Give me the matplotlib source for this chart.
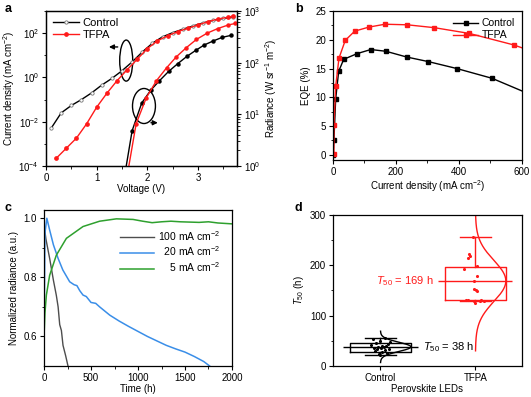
import numpy as np
import matplotlib
matplotlib.use('Agg')
import matplotlib.pyplot as plt
from matplotlib.patches import Ellipse
from matplotlib.ticker import MultipleLocator, FixedLocator, LogFormatterMathtext, NullFormatter

plt.rcParams['font.family'] = ['Liberation Sans', 'DejaVu Sans']
plt.rcParams['mathtext.fontset'] = 'custom'
plt.rcParams['mathtext.rm'] = 'Liberation Sans'
plt.rcParams['mathtext.it'] = 'Liberation Sans:italic'
plt.rcParams['mathtext.default'] = 'regular'
plt.rcParams['font.size'] = 7
plt.rcParams['axes.linewidth'] = 0.9
plt.rcParams['xtick.major.size'] = 3
plt.rcParams['ytick.major.size'] = 3
plt.rcParams['xtick.minor.size'] = 1.8
plt.rcParams['ytick.minor.size'] = 1.8
plt.rcParams['xtick.major.pad'] = 2
plt.rcParams['ytick.major.pad'] = 2

RED = '#ff1a1a'

# ---- panel a: J-V and L-V
v_ctrl_j = [0.1, 0.3, 0.5, 0.7, 0.9, 1.1, 1.3, 1.5, 1.7, 1.9, 2.1, 2.3, 2.5, 2.7, 2.9, 3.1, 3.3, 3.5, 3.7]
j_ctrl = [5.0e-3, 2.5e-2, 5.4e-2, 0.1, 0.2, 0.45, 0.9, 2.0, 5.0, 14, 35, 68, 105, 150, 210, 290, 380, 460, 525]
v_tfpa_j = [0.2, 0.4, 0.6, 0.8, 1.0, 1.2, 1.4, 1.6, 1.8, 2.0, 2.2, 2.4, 2.6, 2.8, 3.0, 3.2, 3.4, 3.6, 3.7]
j_tfpa = [2.2e-4, 6.3e-4, 1.8e-3, 7.9e-3, 4.5e-2, 0.19, 0.7, 2.2, 6.6, 20, 45, 76, 117, 166, 234, 331, 437, 525, 600]

v_ctrl_l = [1.55, 1.7, 1.89, 2.07, 2.24, 2.42, 2.6, 2.78, 2.96, 3.12, 3.3, 3.48, 3.66]
l_ctrl = [0.63, 4.8, 16.6, 29.5, 44.7, 67.6, 95.5, 132, 174, 219, 263, 309, 339]
v_tfpa_l = [1.6, 1.78, 1.98, 2.18, 2.38, 2.57, 2.77, 2.97, 3.18, 3.39, 3.6, 3.74]
l_tfpa = [0.63, 6.6, 20.9, 44.7, 79.4, 129, 195, 282, 372, 457, 537, 575]

# ---- panel b: EQE
jb_ctrl = [0, 3, 8.5, 18, 34, 77, 120, 168, 234, 303, 393, 505, 600]
eqe_ctrl = [0, 2.6, 9.7, 14.5, 16.6, 17.6, 18.3, 18.0, 17.0, 16.2, 15.0, 13.3, 11.1]
jb_tfpa = [3, 3, 8.5, 19, 39, 69, 114, 165, 236, 322, 433, 574, 600]
eqe_tfpa = [0.2, 5.2, 11.9, 16.8, 19.9, 21.5, 22.2, 22.7, 22.6, 22.1, 21.1, 19.1, 18.6]

# ---- panel c: stability
t_100 = [0, 20, 60, 100, 131, 150, 167, 185, 202, 230, 255]
r_100 = [0.98, 0.93, 0.864, 0.79, 0.739, 0.70, 0.64, 0.62, 0.57, 0.535, 0.5]
t_20 = [0, 10, 30, 60, 100, 150, 200, 273, 320, 350, 380, 415, 450, 500, 550, 592, 700, 800, 900,
        1000, 1100, 1200, 1300, 1400, 1500, 1600, 1700, 1762]
r_20 = [0.59, 0.95, 1.0, 0.96, 0.91, 0.864, 0.825, 0.785, 0.775, 0.772, 0.755, 0.74, 0.735, 0.715,
        0.712, 0.70, 0.672, 0.652, 0.634, 0.617, 0.60, 0.585, 0.57, 0.558, 0.547, 0.532, 0.515, 0.5]
t_5 = [0, 10, 25, 60, 131, 238, 415, 592, 770, 947, 1050, 1150, 1250, 1350, 1450, 1550, 1650, 1750, 1850, 2000]
r_5 = [0.6, 0.68, 0.74, 0.807, 0.875, 0.932, 0.972, 0.99, 0.998, 0.996, 0.99, 0.985, 0.988, 0.99,
       0.988, 0.987, 0.986, 0.988, 0.984, 0.981]

# ---- panel d: T50 statistics
groups = ['Control', 'TFPA']
t50_ctrl = [55, 53, 50, 47, 45, 43, 41, 40, 39, 38, 37, 36, 35, 34, 33, 32, 30, 28, 26, 24, 22]
dx_ctrl = [0.05, -0.08, 0.0, 0.1, -0.05, 0.08, -0.1, 0.02, 0.06, -0.03, 0.04, -0.07, 0.01, 0.09, -0.04,
           0.05, -0.06, 0.02, 0.07, -0.02, 0.0]
t50_tfpa = [257, 222, 218, 215, 193, 198, 179, 169, 152, 150, 148, 131, 132, 130, 129, 126, 131, 130]
dx_tfpa = [-0.03, -0.07, -0.06, -0.08, -0.12, 0.02, 0.02, -0.02, -0.01, 0.01, 0.02, -0.1, -0.08,
           -0.01, 0.05, 0.0, 0.06, 0.09]
box_ctrl = dict(med=38, q1=28.4, q3=46, whislo=22, whishi=55)
box_tfpa = dict(med=169, q1=131, q3=197.5, whislo=129.5, whishi=257)

fig = plt.figure(figsize=(5.31, 3.97), dpi=100)
axa = fig.add_axes([0.0866, 0.5819, 0.3597, 0.3904])
axb = fig.add_axes([0.6271, 0.597, 0.3559, 0.3753])
axc = fig.add_axes([0.0829, 0.0781, 0.354, 0.393])
axd = fig.add_axes([0.6271, 0.0781, 0.3559, 0.3804])

# panel a
axa.semilogy(v_ctrl_j, j_ctrl, '-o', color='k', lw=1, ms=2.4, mfc='white', mec='0.45', mew=0.6, label='Control')
axa.semilogy(v_tfpa_j, j_tfpa, '-o', color=RED, lw=1, ms=2.4, mfc=RED, mec=RED, label='TFPA')
axa.set_xlim(0, 3.77)
axa.set_ylim(1e-4, 1e3)
axa.yaxis.set_major_locator(FixedLocator([1e-4, 1e-2, 1e0, 1e2]))
axa.yaxis.set_minor_locator(FixedLocator([1e-3, 1e-1, 1e1, 1e3]))
axa.yaxis.set_major_formatter(LogFormatterMathtext())
axa.yaxis.set_minor_formatter(NullFormatter())
axa.xaxis.set_major_locator(MultipleLocator(1))
axa.xaxis.set_minor_locator(MultipleLocator(0.5))
axa.set_xlabel('Voltage (V)', labelpad=1)
axa.set_ylabel('Current density (mA cm$^{-2}$)', labelpad=1)
axa.legend(loc='upper left', frameon=False, handlelength=2.4, borderaxespad=0.2,
           labelspacing=0.2, handletextpad=0.3, fontsize=8)
axa2 = axa.twinx()
axa2.semilogy(v_ctrl_l, l_ctrl, '-o', color='k', lw=1, ms=2.2)
axa2.semilogy(v_tfpa_l, l_tfpa, '-o', color=RED, lw=1, ms=2.2)
axa2.set_ylim(1, 1e3)
axa2.yaxis.set_major_formatter(LogFormatterMathtext())
axa2.set_ylabel('Radiance (W sr$^{-1}$ m$^{-2}$)', labelpad=2)
axa.add_patch(Ellipse((0.42, 0.68), 0.068, 0.265, transform=axa.transAxes, fill=False, lw=1, ec='k'))
axa.annotate('', xy=(0.315, 0.768), xytext=(0.39, 0.768), xycoords='axes fraction',
             arrowprops=dict(arrowstyle='-|>', color='k', lw=1, mutation_scale=7))
axa.add_patch(Ellipse((0.513, 0.387), 0.12, 0.226, transform=axa.transAxes, fill=False, lw=1, ec='k'))
axa.annotate('', xy=(0.6, 0.279), xytext=(0.535, 0.279), xycoords='axes fraction',
             arrowprops=dict(arrowstyle='-|>', color='k', lw=1, mutation_scale=7))

# panel b
axb.plot(jb_ctrl, eqe_ctrl, '-s', color='k', lw=1, ms=2.3, markevery=slice(0, -1), label='Control')
axb.plot(jb_tfpa, eqe_tfpa, '-s', color=RED, lw=1, ms=2.3, markevery=slice(0, -1), label='TFPA')
axb.set_xlim(0, 600)
axb.set_ylim(-0.9, 25)
axb.xaxis.set_major_locator(MultipleLocator(200))
axb.xaxis.set_minor_locator(MultipleLocator(100))
axb.yaxis.set_major_locator(MultipleLocator(5))
axb.yaxis.set_minor_locator(MultipleLocator(2.5))
axb.set_xlabel('Current density (mA cm$^{-2}$)', labelpad=1)
axb.set_ylabel('EQE (%)', labelpad=3)
axb.legend(loc='upper right', frameon=False, handlelength=2.4, borderaxespad=0.3,
           labelspacing=0.2, handletextpad=0.3, fontsize=7.5)

# panel c
axc.plot(t_100, r_100, color='#4d4d4d', lw=1, label='100 mA cm$^{-2}$')
axc.plot(t_20, r_20, color='#3a8ee8', lw=1.1, label='  20 mA cm$^{-2}$')
axc.plot(t_5, r_5, color='#2ea02e', lw=1.1, label='    5 mA cm$^{-2}$')
axc.set_xlim(0, 2000)
axc.set_ylim(0.5, 1.028)
axc.xaxis.set_major_locator(MultipleLocator(500))
axc.xaxis.set_minor_locator(MultipleLocator(250))
axc.yaxis.set_major_locator(FixedLocator([0.6, 0.8, 1.0]))
axc.yaxis.set_minor_locator(FixedLocator([0.7, 0.9]))
axc.set_xlabel('Time (h)', labelpad=1)
axc.set_ylabel('Normalized radiance (a.u.)', labelpad=3)
axc.legend(loc='upper right', bbox_to_anchor=(0.99, 0.94), frameon=False, handlelength=3.3,
           labelspacing=0.2, handletextpad=0.4, fontsize=7.5)

# panel d
stats = []
for name, b in zip(groups, [box_ctrl, box_tfpa]):
    s = dict(b)
    s['label'] = name
    stats.append(s)
for i, (s, col) in enumerate(zip(stats, ['k', RED])):
    pos = i + 1
    axd.bxp([s], positions=[pos], widths=0.64, capwidths=[0.32], showfliers=False,
            boxprops=dict(color=col, lw=1), whiskerprops=dict(color=col, lw=1),
            capprops=dict(color=col, lw=1), medianprops=dict(visible=False), manage_ticks=False)
    axd.hlines(s['med'], pos - 0.39, pos + 0.39, color=col, lw=1)
for pos, vals, dx, col in [(1, t50_ctrl, dx_ctrl, 'k'), (2, t50_tfpa, dx_tfpa, RED)]:
    vals = np.array(vals, dtype=float)
    axd.scatter(pos + np.array(dx), vals, s=5, color=col, zorder=3, lw=0)
    mu = stats[pos - 1]['med']
    sd = np.std(vals, ddof=1)
    yy = np.linspace(mu - 3.4 * sd, mu + 3.4 * sd, 200)
    axd.plot(pos + 0.32 * np.exp(-0.5 * ((yy - mu) / sd) ** 2), yy, color=col, lw=1)
axd.text(1.45, box_ctrl['med'], '$\\mathit{T_{50}}$ = %d h' % box_ctrl['med'], color='k',
         ha='left', va='center', fontsize=8)
axd.text(1.56, box_tfpa['med'], '$\\mathit{T_{50}}$ = %d h' % box_tfpa['med'], color=RED,
         ha='right', va='center', fontsize=8)
axd.set_xlim(0.5, 2.49)
axd.set_ylim(0, 300)
axd.set_xticks([1, 2])
axd.set_xticklabels(groups)
axd.yaxis.set_major_locator(MultipleLocator(100))
axd.yaxis.set_minor_locator(MultipleLocator(50))
axd.set_xlabel('Perovskite LEDs', labelpad=1)
axd.set_ylabel('$\\mathit{T_{50}}$ (h)', labelpad=3)

for ax in [axa, axb, axc, axd]:
    ax.tick_params(which='both', direction='out', top=False, right=False)
axa2.tick_params(which='both', direction='out')

fig.text(0.008, 0.992, 'a', fontsize=9, fontweight='bold', va='top')
fig.text(0.555, 0.992, 'b', fontsize=9, fontweight='bold', va='top')
fig.text(0.008, 0.49, 'c', fontsize=9, fontweight='bold', va='top')
fig.text(0.555, 0.49, 'd', fontsize=9, fontweight='bold', va='top')

fig.savefig('out.png', dpi=100)
